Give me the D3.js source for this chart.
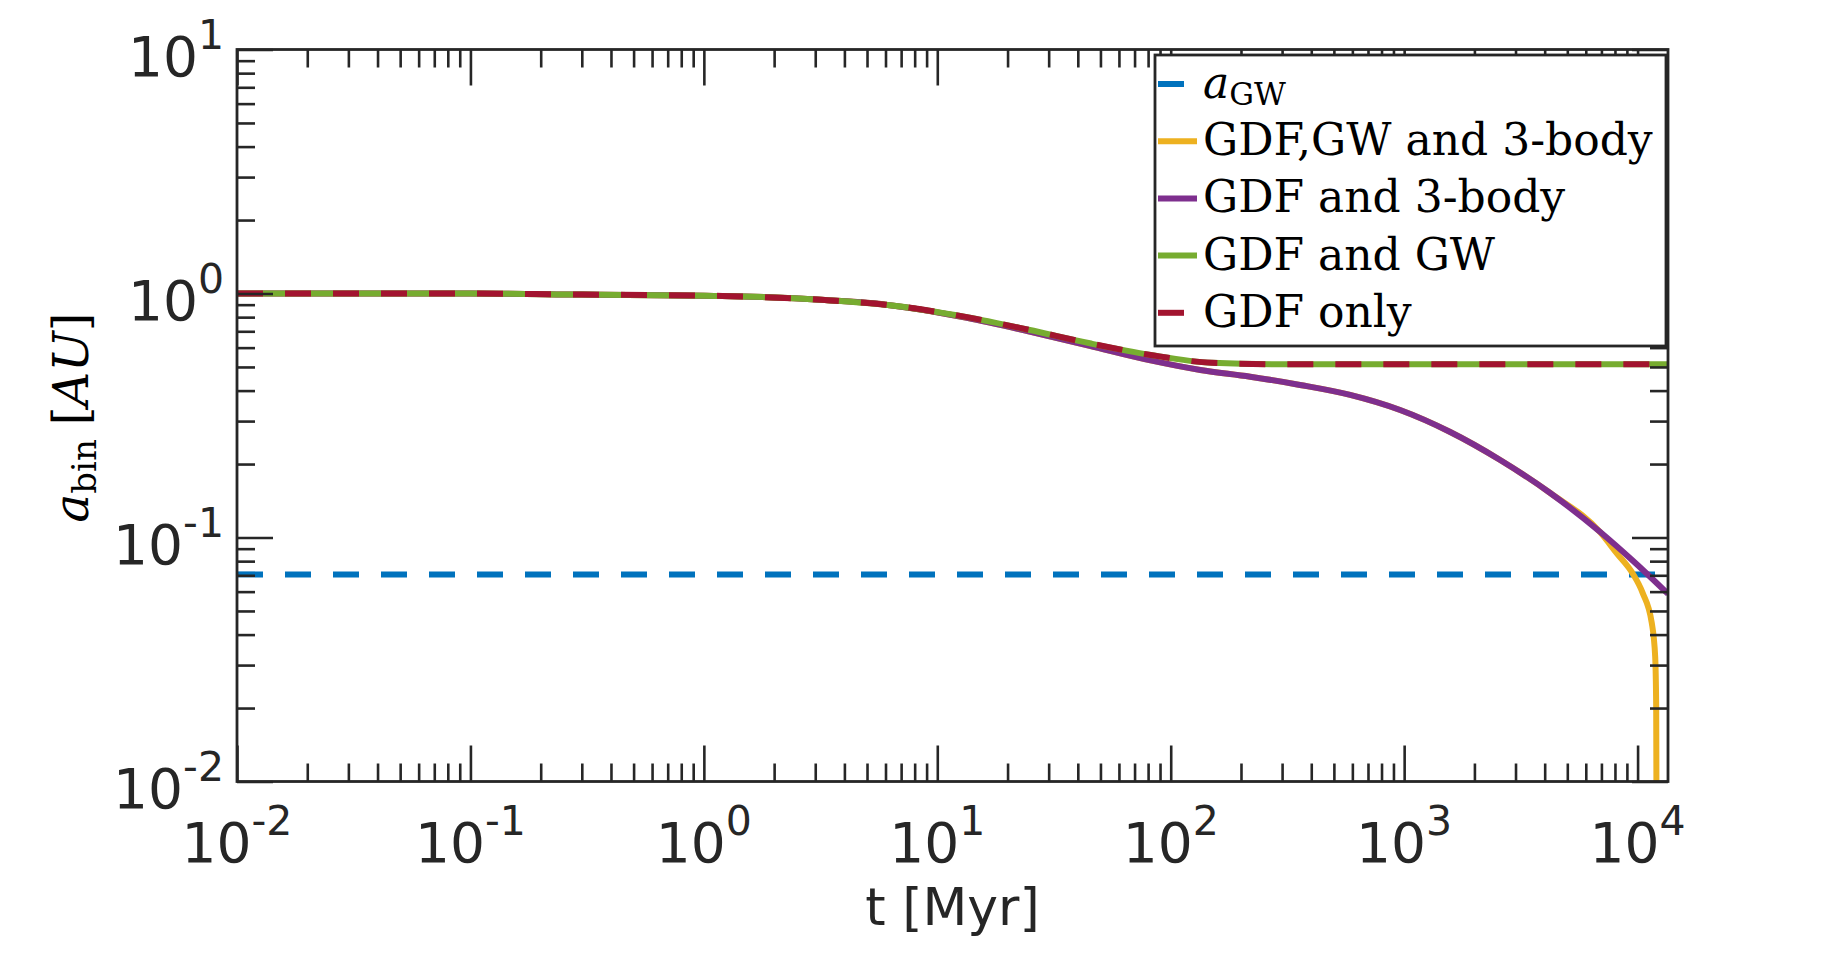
<!DOCTYPE html>
<html>
<head>
<meta charset="utf-8">
<script src="https://cdn.jsdelivr.net/npm/d3@7"></script>
<style>
    body { margin: 0; background: #fff; }
    .ticks line { stroke: #262626; stroke-width: 2.6; }
    .ticks .domain { display: none; }
    .frame { fill: none; stroke: #262626; stroke-width: 2.8; }
    .tick-label { font-family: "DejaVu Sans", sans-serif; font-size: 55px; fill: #262626; }
    .axis-title { font-family: "DejaVu Sans", sans-serif; font-size: 52px; fill: #262626; }
    .tex { font-family: "DejaVu Serif", serif; fill: #000; }
    .series { fill: none; stroke-width: 6; }
</style>
</head>
<body>
<div id="chart"></div>
<script>
// ──── Data ────
const tLimits = [0.01, 13500];      // t [Myr]
const aLimits = [0.01, 10];         // a_bin [AU]

const xTickExps = [-2, -1, 0, 1, 2, 3, 4];
const yTickExps = [-2, -1, 0, 1];

const aGWValue = 0.0706;

const tGDFonly = [0.01, 0.1, 0.3, 1.2, 3.3, 6, 13.4, 24.6, 45, 82, 150, 300, 1000, 13500];
const aGDFonly = [1.0, 1.0, 0.99, 0.977, 0.94, 0.90, 0.80, 0.71, 0.625, 0.56, 0.52, 0.513, 0.513, 0.513];

const tGDFGW = [0.01, 0.1, 0.3, 1.2, 3.3, 6, 13.4, 24.6, 45, 82, 150, 300, 1000, 13500];
const aGDFGW = [1.0, 1.0, 0.99, 0.977, 0.94, 0.90, 0.80, 0.71, 0.625, 0.56, 0.52, 0.513, 0.513, 0.513];

const tGDF3b = [0.01, 0.1, 0.3, 1.2, 3.3, 6, 13.4, 24.6, 45, 82, 134, 219, 358, 587, 961, 1575, 2578, 4224, 6918, 9575, 10990, 13520];
const aGDF3b = [1.0, 1.0, 0.99, 0.977, 0.94, 0.90, 0.795, 0.70, 0.61, 0.532, 0.486, 0.456, 0.422, 0.384, 0.333, 0.2706, 0.2078, 0.1522, 0.1053, 0.0801, 0.0709, 0.0587];

const tAll = [0.01, 0.1, 0.3, 1.2, 3.3, 6, 13.4, 24.6, 45, 82, 134, 219, 358, 587, 961, 1575, 2578, 4224, 6918, 8150, 9520, 10510, 11500, 11896, 12015, 12050];
const aAll = [1.0, 1.0, 0.99, 0.977, 0.94, 0.90, 0.795, 0.70, 0.61, 0.532, 0.486, 0.456, 0.422, 0.384, 0.333, 0.2706, 0.2078, 0.1522, 0.1050, 0.0861, 0.0713, 0.0593, 0.0447, 0.0325, 0.0203, 0.008];

// ──── Layout ────
const W = 1848, H = 961;
const box = { left: 237, right: 1668, top: 49.5, bottom: 781.5 };

const svg = d3.select("#chart")
    .append("svg")
    .attr("width", W)
    .attr("height", H);

svg.append("rect").attr("width", W).attr("height", H).attr("fill", "#fff");

// ──── Scales ────
const x = d3.scaleLog().domain(tLimits).range([box.left, box.right]);
const y = d3.scaleLog().domain(aLimits).range([box.bottom, box.top]);

const decadeTicks = (exps, lim) => {
    const out = [];
    for (let k = exps[0]; k <= exps[exps.length - 1]; k++) {
        for (let m = 2; m <= 9; m++) {
            const v = m * Math.pow(10, k);
            if (v >= lim[0] && v <= lim[1]) out.push(v);
        }
    }
    return out;
};
const xMajor = xTickExps.map(e => Math.pow(10, e));
const yMajor = yTickExps.map(e => Math.pow(10, e));
const xMinor = decadeTicks(xTickExps, tLimits);
const yMinor = decadeTicks(yTickExps, aLimits);

// ──── Series ────
const series = [
    { t: tLimits, a: [aGWValue, aGWValue], color: "#0072BD", dash: "26,22" },
    { t: tAll, a: aAll, color: "#EDB120", dash: null },
    { t: tGDF3b, a: aGDF3b, color: "#7E2F8E", dash: null },
    { t: tGDFGW, a: aGDFGW, color: "#77AC30", dash: null },
    { t: tGDFonly, a: aGDFonly, color: "#A2142F", dash: "26,22" }
];

svg.append("clipPath").attr("id", "plot-clip")
    .append("rect")
    .attr("x", box.left).attr("y", box.top)
    .attr("width", box.right - box.left).attr("height", box.bottom - box.top);

const line = d3.line()
    .x(d => x(d[0]))
    .y(d => y(d[1]))
    .curve(d3.curveMonotoneX);

svg.append("g")
    .attr("clip-path", "url(#plot-clip)")
    .selectAll("path")
    .data(series)
    .join("path")
    .attr("class", "series")
    .attr("stroke", d => d.color)
    .attr("stroke-dasharray", d => d.dash)
    .attr("d", d => line(d3.zip(d.t, d.a)));

// ──── Axes (ticks inside, on all four sides) ────
const addTicks = (axisFn, scale, values, size, transform) => {
    svg.append("g")
        .attr("class", "ticks")
        .attr("transform", transform)
        .call(axisFn(scale).tickValues(values).tickSize(-size).tickSizeOuter(0).tickFormat(""));
};
[[xMinor, 18], [xMajor, 36]].forEach(([vals, len]) => {
    addTicks(d3.axisBottom, x, vals, len, `translate(0,${box.bottom})`);
    addTicks(d3.axisTop, x, vals, len, `translate(0,${box.top})`);
});
[[yMinor, 18], [yMajor, 36]].forEach(([vals, len]) => {
    addTicks(d3.axisLeft, y, vals, len, `translate(${box.left},0)`);
    addTicks(d3.axisRight, y, vals, len, `translate(${box.right},0)`);
});

svg.append("rect")
    .attr("class", "frame")
    .attr("x", box.left).attr("y", box.top)
    .attr("width", box.right - box.left).attr("height", box.bottom - box.top);

// Tick labels 10^k
const powerLabel = (sel) => {
    sel.append("tspan").text("10");
    sel.append("tspan")
        .attr("dy", -27)
        .attr("font-size", "41px")
        .text(d => String(d));
};

svg.append("g")
    .selectAll("text")
    .data(xTickExps)
    .join("text")
    .attr("class", "tick-label")
    .attr("x", d => x(Math.pow(10, d)))
    .attr("y", box.bottom + 80)
    .attr("text-anchor", "middle")
    .call(powerLabel);

svg.append("g")
    .selectAll("text")
    .data(yTickExps)
    .join("text")
    .attr("class", "tick-label")
    .attr("x", 224)
    .attr("y", d => y(Math.pow(10, d)) + 26.5)
    .attr("text-anchor", "end")
    .call(powerLabel);

// Axis titles
svg.append("text")
    .attr("class", "axis-title")
    .attr("x", (box.left + box.right) / 2)
    .attr("y", 925)
    .attr("text-anchor", "middle")
    .text("t [Myr]");

const yTitle = svg.append("text")
    .attr("class", "tex")
    .attr("transform", `translate(88, ${(box.top + box.bottom) / 2 + 2}) rotate(-90)`)
    .attr("text-anchor", "middle")
    .attr("font-size", "48px");
yTitle.append("tspan").attr("font-style", "italic").text("a");
yTitle.append("tspan").attr("font-size", "34px").attr("dy", 8).text("bin");
yTitle.append("tspan").attr("dy", -8).attr("dx", 14).text("[");
yTitle.append("tspan").attr("font-style", "italic").text("AU");
yTitle.append("tspan").text("]");

// ──── Legend ────
const legendEntries = [
    { label: null, color: "#0072BD", dash: "26,22" },
    { label: "GDF,GW and 3-body", color: "#EDB120", dash: null },
    { label: "GDF and 3-body", color: "#7E2F8E", dash: null },
    { label: "GDF and GW", color: "#77AC30", dash: null },
    { label: "GDF only", color: "#A2142F", dash: "26,22" }
];

const legend = svg.append("g").attr("class", "legend");
legend.append("rect")
    .attr("x", 1155).attr("y", 55)
    .attr("width", 511).attr("height", 291)
    .attr("fill", "#fff")
    .attr("stroke", "#262626")
    .attr("stroke-width", 2.8);

const rows = legend.selectAll("g.row")
    .data(legendEntries)
    .join("g")
    .attr("class", "row")
    .attr("transform", (d, i) => `translate(0, ${98 + i * 57.2})`);

rows.append("line")
    .attr("x1", 1158).attr("x2", 1197)
    .attr("y1", -14).attr("y2", -14)
    .attr("stroke", d => d.color)
    .attr("stroke-width", 6)
    .attr("stroke-dasharray", d => d.dash);

rows.append("text")
    .attr("class", "tex")
    .attr("x", 1203)
    .attr("y", 0)
    .attr("font-size", "44px")
    .each(function(d) {
        const el = d3.select(this);
        if (d.label) {
            el.text(d.label);
        } else {
            el.append("tspan").attr("font-style", "italic").text("a");
            el.append("tspan").attr("font-size", "31px").attr("dy", 7).text("GW");
        }
    });
</script>
</body>
</html>
